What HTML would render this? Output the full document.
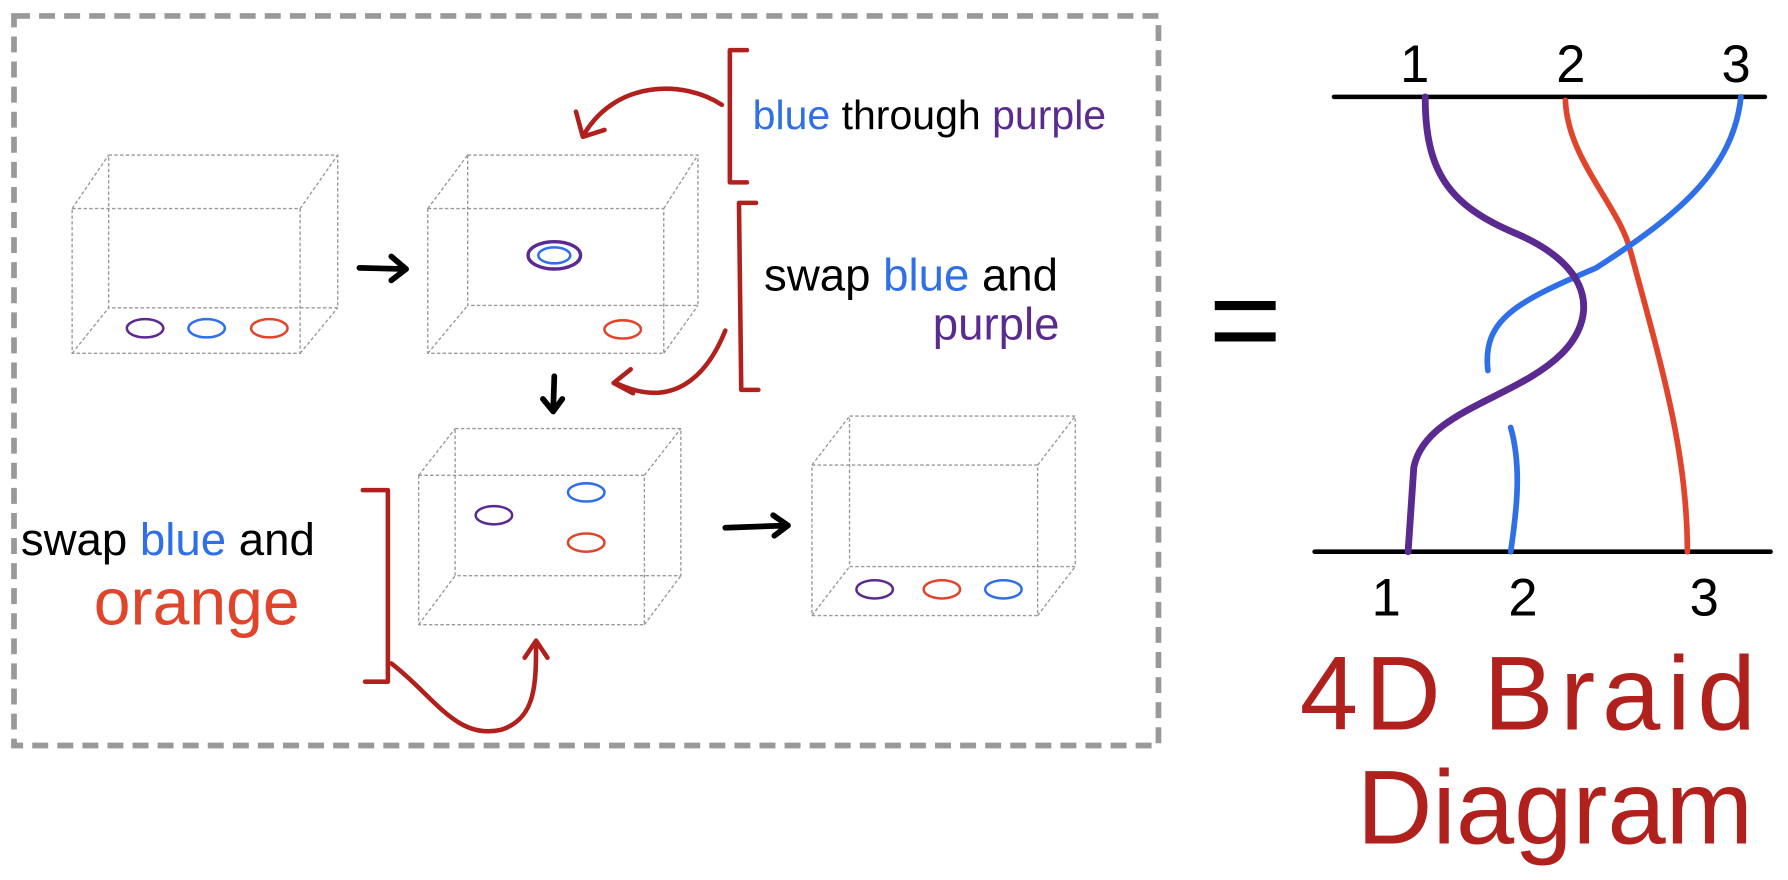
<!DOCTYPE html>
<html><head><meta charset="utf-8"><style>
html,body{margin:0;padding:0;background:#fff;}
svg{display:block;}
text{font-family:"Liberation Sans",sans-serif;}
</style></head><body>
<svg width="1788" height="880" viewBox="0 0 1568 772" xmlns="http://www.w3.org/2000/svg">
<rect x="12" y="14" width="1004" height="640" fill="none" stroke="#999" stroke-width="5" stroke-dasharray="14 8"/>
<g fill="none" stroke="#999" stroke-width="1.2" stroke-dasharray="3 2">
<rect x="95" y="136" width="201" height="134"/><rect x="63" y="183" width="200" height="127"/>
<path d="M63,183L95,136M263,183L296,136M63,310L95,270M263,310L296,270"/></g>
<g fill="none" stroke="#999" stroke-width="1.2" stroke-dasharray="3 2">
<rect x="410" y="136" width="202" height="132"/><rect x="375" y="183" width="207" height="127"/>
<path d="M375,183L410,136M582,183L612,136M375,310L410,268M582,310L612,268"/></g>
<g fill="none" stroke="#999" stroke-width="1.2" stroke-dasharray="3 2">
<rect x="399" y="376" width="198" height="129"/><rect x="367" y="417" width="198" height="131"/>
<path d="M367,417L399,376M565,417L597,376M367,548L399,505M565,548L597,505"/></g>
<g fill="none" stroke="#999" stroke-width="1.2" stroke-dasharray="3 2">
<rect x="745" y="365" width="198" height="132"/><rect x="712" y="408" width="198" height="132"/>
<path d="M712,408L745,365M910,408L943,365M712,540L745,497M910,540L943,497"/></g>
<g fill="none" stroke-width="2.2">
<ellipse cx="127" cy="288" rx="16" ry="8" stroke="#5b2a91"/><ellipse cx="181" cy="288" rx="16" ry="8" stroke="#2f6fe8"/><ellipse cx="236" cy="288" rx="16" ry="8" stroke="#e0452c"/>
<ellipse cx="486" cy="224" rx="23" ry="12" stroke="#5b2a91" stroke-width="3"/><ellipse cx="486" cy="224" rx="14" ry="7" stroke="#2f6fe8"/><ellipse cx="546" cy="289" rx="16" ry="8" stroke="#e0452c"/>
<ellipse cx="433" cy="452" rx="16" ry="8" stroke="#5b2a91"/><ellipse cx="514" cy="432" rx="16" ry="8" stroke="#2f6fe8"/><ellipse cx="514" cy="476" rx="16" ry="8" stroke="#e0452c"/>
<ellipse cx="767" cy="517" rx="16" ry="8" stroke="#5b2a91"/><ellipse cx="826" cy="517" rx="16" ry="8" stroke="#e0452c"/><ellipse cx="880" cy="517" rx="16" ry="8" stroke="#2f6fe8"/>
</g>
<g fill="none" stroke="#000" stroke-width="5" stroke-linecap="round" stroke-linejoin="round">
<path d="M315,235L355,236M343,225L356,236L343,246"/>
<path d="M486,330L485,360M476,350L485,361L493,350"/>
<path d="M636,463L690,461M678,452L691,461L679,470"/>
</g>
<g fill="none" stroke="#b0201c" stroke-width="4" stroke-linecap="round" stroke-linejoin="round">
<path d="M633,92C600,70 540,70 512,118M505,98L511,120L530,114"/>
<path d="M636,290C620,330 590,360 540,336M553,324L538,336L555,345"/>
<path d="M343,582C380,610 400,650 440,640C470,630 470,600 470,563M460,577L470,562L480,577"/>
<path d="M655,44L640,44L640,160L655,160"/>
<path d="M663,178L648,178L650,342L665,342"/>
<path d="M318,430L340,430L340,598L320,598"/>
</g>
<g font-size="36">
<text x="660" y="113"><tspan fill="#2f6fe8">blue</tspan><tspan fill="#000"> through </tspan><tspan fill="#5b2a91">purple</tspan></text>
<text x="670" y="255" font-size="40"><tspan fill="#000">swap </tspan><tspan fill="#2f6fe8">blue</tspan><tspan fill="#000"> and</tspan></text>
<text x="818" y="298" font-size="40" fill="#5b2a91">purple</text>
<text x="18" y="487" font-size="40"><tspan fill="#000">swap </tspan><tspan fill="#2f6fe8">blue</tspan><tspan fill="#000"> and</tspan></text>
<text x="82" y="548" font-size="58" fill="#e0452c">orange</text>
</g>
<text x="1060" y="318" font-size="110" fill="#000">=</text>
<g fill="none" stroke-linecap="round">
<path d="M1170,85L1548,85" stroke="#000" stroke-width="4"/>
<path d="M1153,484L1553,484" stroke="#000" stroke-width="4"/>
<path d="M1373,88C1375,140 1420,180 1430,220C1460,330 1480,400 1480,484" stroke="#e0452c" stroke-width="5"/>
<path d="M1527,85C1520,150 1470,190 1400,235C1330,265 1300,280 1305,325" stroke="#2f6fe8" stroke-width="5"/>
<path d="M1325,375C1335,410 1330,450 1325,484" stroke="#2f6fe8" stroke-width="5"/>
<path d="M1250,85C1250,150 1270,180 1330,205C1400,235 1400,280 1370,310C1330,350 1250,360 1240,410L1235,484" stroke="#5b2a91" stroke-width="6"/>
</g>
<g font-size="46" fill="#000">
<text x="1228" y="72">1</text><text x="1365" y="72">2</text><text x="1510" y="72">3</text>
<text x="1203" y="540">1</text><text x="1323" y="540">2</text><text x="1482" y="540">3</text>
</g>
<text x="1140" y="640" font-size="92" fill="#b0201c" letter-spacing="6">4D Braid</text>
<text x="1190" y="740" font-size="92" fill="#b0201c">Diagram</text>
</svg>
</body></html>
